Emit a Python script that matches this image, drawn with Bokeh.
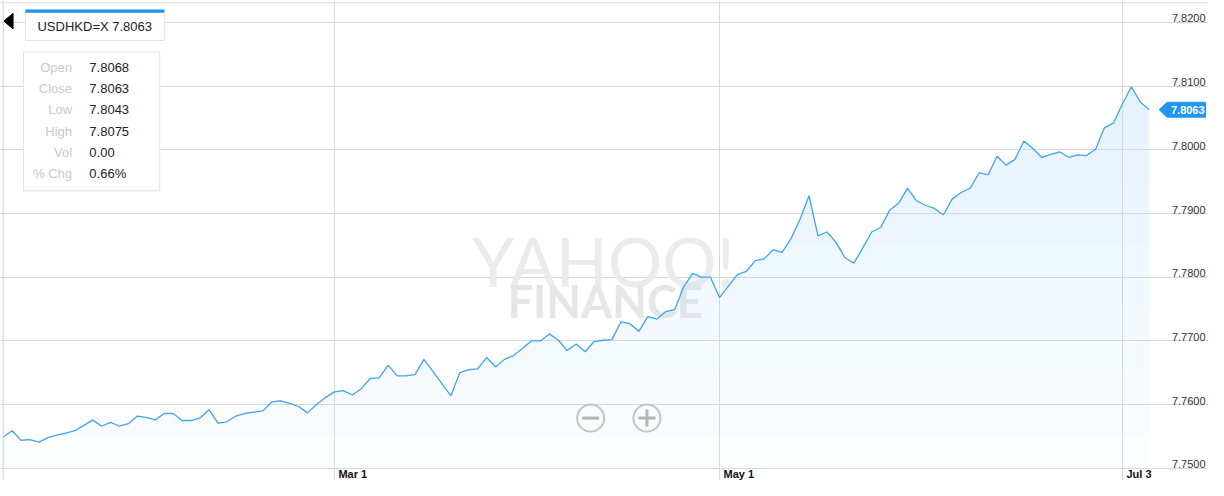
import pandas as pd
from bokeh.plotting import figure
from bokeh.models import Range1d, FixedTicker, Span
from bokeh.core.properties import value
from bokeh.embed import file_html
from bokeh.resources import INLINE

# ---------------- data ----------------
symbol = "USDHKD=X"
start_date = "2017-01-09"          # first trading day shown (weekday series)
close = [
    7.7549, 7.7559, 7.7544, 7.7545, 7.7541, 7.7548, 7.7552, 7.7555, 7.7559, 7.7567,
    7.7576, 7.7566, 7.7572, 7.7566, 7.7570, 7.7582, 7.7580, 7.7576, 7.7586, 7.7586,
    7.7575, 7.7575, 7.7579, 7.7592, 7.7571, 7.7573, 7.7582, 7.7586, 7.7588, 7.7590,
    7.7604, 7.7606, 7.7602, 7.7597, 7.7587, 7.7600, 7.7611, 7.7620, 7.7622, 7.7615,
    7.7625, 7.7641, 7.7642, 7.7662, 7.7645, 7.7645, 7.7647, 7.7671, 7.7652, 7.7633,
    7.7614, 7.7650, 7.7655, 7.7656, 7.7674, 7.7659, 7.7671, 7.7677, 7.7688, 7.7700,
    7.7700, 7.7711, 7.7701, 7.7685, 7.7695, 7.7683, 7.7699, 7.7701, 7.7702, 7.7730,
    7.7727, 7.7715, 7.7738, 7.7734, 7.7746, 7.7749, 7.7785, 7.7806, 7.7800, 7.7800,
    7.7768, 7.7786, 7.7804, 7.7809, 7.7826, 7.7829, 7.7843, 7.7839, 7.7861, 7.7891,
    7.7928, 7.7865, 7.7871, 7.7855, 7.7831, 7.7822, 7.7846, 7.7871, 7.7878, 7.7905,
    7.7916, 7.7940, 7.7920, 7.7913, 7.7908, 7.7898, 7.7923, 7.7933, 7.7940, 7.7964,
    7.7961, 7.7990, 7.7976, 7.7985, 7.8014, 7.8002, 7.7988, 7.7993, 7.7997, 7.7988,
    7.7992, 7.7991, 7.8001, 7.8035, 7.8042, 7.8072, 7.8099, 7.8075, 7.8063,
]
y_ticks = [7.75, 7.76, 7.77, 7.78, 7.79, 7.80, 7.81, 7.82]
y_tick_labels = ["7.7500", "7.7600", "7.7700", "7.7800", "7.7900", "7.8000", "7.8100", "7.8200"]
x_tick_dates = ["2017-03-01", "2017-05-01", "2017-07-03"]
x_tick_labels = ["Mar 1", "May 1", "Jul 3"]
info_labels = ["Open", "Close", "Low", "High", "Vol", "% Chg"]
info_values = ["7.8068", "7.8063", "7.8043", "7.8075", "0.00", "0.66%"]

# ---------------- derived ----------------
n = len(close)
idx = list(range(n))
dates = pd.bdate_range(start_date, periods=n)
tick_idx = [int(dates.get_loc(pd.Timestamp(d))) for d in x_tick_dates]
last = close[-1]

# ---------------- layout helpers ----------------
W, H = 1208, 480
SX, SY = W / 1224, H / 496
XR = (-0.287, 134.61)
YR = (7.74808, 7.82345)


def px(rx):
    return XR[0] + rx * SX / W * (XR[1] - XR[0])


def py(ry):
    return YR[1] - ry * SY / H * (YR[1] - YR[0])


def dy(rpx):
    return rpx * SY / H * (YR[1] - YR[0])


FONT = value("Liberation Sans")

p = figure(width=W, height=H, x_range=Range1d(*XR), y_range=Range1d(*YR),
           output_backend="svg", toolbar_location=None, min_border=0,
           background_fill_color="white", border_fill_color="white")
p.xaxis.visible = False
p.yaxis.visible = False
p.outline_line_color = None
p.xgrid.ticker = FixedTicker(ticks=tick_idx)
p.ygrid.ticker = FixedTicker(ticks=y_ticks)
p.grid.grid_line_color = "#d9d9d9"
p.grid.grid_line_width = 1

# borders
p.add_layout(Span(location=px(2.7), dimension="height", line_color="#d0d0d0", line_width=1))
p.add_layout(Span(location=py(2.3), dimension="width", line_color="#dcdcdc", line_width=1))

# watermark
p.text(x=[px(611)], y=[py(269)], text=["YAHOO!"], text_font=value("Lato"),
       text_font_size="68px", text_color="#ebebeb", text_align="center",
       text_baseline="alphabetic")
p.text(x=[px(612.5)], y=[py(310)], text=["FINANCE"], text_font=value("Lato"),
       text_font_style="bold", text_font_size="45px", text_color="#e6e6e6",
       text_align="center", text_baseline="alphabetic")

# gradient-like area fill
base = y_ticks[0]
fill_c = "#c8e4fa"
p.varea(x=idx, y1=[base] * n, y2=close, fill_color=fill_c, fill_alpha=0.07)
for k in range(1, 15):
    t = base + 0.005 * k
    p.varea(x=idx, y1=[t] * n, y2=[max(v, t) for v in close], fill_color=fill_c,
            fill_alpha=0.042)

# price line
p.line(idx, close, line_color="#3ea5f3", line_width=1.3)

# y tick labels (inside the plot, right side)
p.text(x=[px(1221)] * len(y_ticks), y=y_ticks, text=y_tick_labels, text_align="right",
       text_baseline="alphabetic", y_offset=-4, text_font=FONT, text_font_size="11px",
       text_color="#333333")

# x tick labels
p.text(x=tick_idx, y=[py(489.5)] * len(tick_idx), text=x_tick_labels, text_align="left",
       text_baseline="alphabetic", x_offset=4, text_font=FONT, text_font_style="bold",
       text_font_size="11px", text_color="#111111")

# last price tag
tip_x, body_l, body_r = px(1174), px(1182), px(1221)
h = dy(7.7)
p.patch(x=[tip_x, body_l, body_r, body_r, body_l],
        y=[last, last + h, last + h, last - h, last - h],
        fill_color="#2196f3", line_color="#2196f3")
p.text(x=[px(1203)], y=[last], text=[f"{last:.4f}"], text_align="center",
       text_baseline="middle", text_font=FONT, text_font_style="bold",
       text_font_size="11px", text_color="white")

# zoom buttons
p.scatter(x=[px(598), px(655)], y=[py(431.5)] * 2, marker="circle", size=27,
          fill_color=None, line_color="#c4c4c4", line_width=2)
p.scatter(x=[px(598)], y=[py(431.5)], marker="dash", size=17, line_color="#b4b4b4",
          line_width=3)
p.scatter(x=[px(655)], y=[py(431.5)], marker="cross", size=17, line_color="#b4b4b4",
          line_width=3)

# left arrow
p.patch(x=[px(3.3), px(12.7), px(12.7)], y=[py(21.3), py(13.3), py(29.3)],
        fill_color="black", line_color="black")

# ticker box
p.quad(left=[px(25.3)], right=[px(166)], top=[py(10)], bottom=[py(41.3)],
       fill_color="white", line_color="#e3e3e3")
p.quad(left=[px(25.3)], right=[px(166)], top=[py(9.3)], bottom=[py(12.6)],
       fill_color="#1e96f0", line_color=None)
p.text(x=[px(95.5)], y=[py(27)], text=[f"{symbol} {last:.4f}"], text_align="center",
       text_baseline="middle", text_font=FONT, text_font_size="13px",
       text_color="#222222")

# info box
p.quad(left=[px(23.3)], right=[px(161.3)], top=[py(53.3)], bottom=[py(196.7)],
       fill_color="white", line_color="#e3e3e3")
rows_y = [py(69 + 22 * k) for k in range(len(info_labels))]
p.text(x=[px(72.5)] * len(info_labels), y=rows_y, text=info_labels, text_align="right",
       text_baseline="middle", text_font=FONT, text_font_size="13px",
       text_color="#c9c9c9")
p.text(x=[px(90)] * len(info_values), y=rows_y, text=info_values, text_align="left",
       text_baseline="middle", text_font=FONT, text_font_size="13px",
       text_color="#222222")

open("out.html", "w").write(file_html(p, INLINE, title=symbol))
